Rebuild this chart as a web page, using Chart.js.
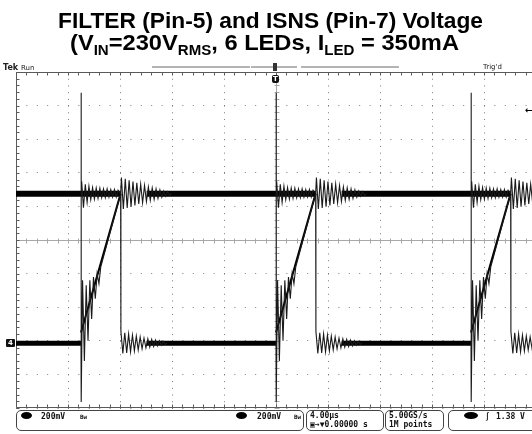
<!DOCTYPE html>
<html>
<head>
<meta charset="utf-8">
<script src="https://cdn.jsdelivr.net/npm/chart.js@4.4.1/dist/chart.umd.min.js"></script>
<style>
  body { margin: 0; width: 532px; height: 434px; overflow: hidden; position: relative; background: #fff; }
  #scope { position: absolute; left: 0; top: 0; }
  .title { position: absolute; white-space: nowrap; font: bold 22px "Liberation Sans", Arial, sans-serif; line-height: 22px; color: #000; transform-origin: 0 0; }
  .title sub { font-size: 14px; vertical-align: -5px; line-height: 0; }
  .lbl { position: absolute; white-space: nowrap; color: #222; font-family: "DejaVu Sans", sans-serif; }
  .mono { position: absolute; white-space: nowrap; color: #111; font: bold 8px "DejaVu Sans Mono", monospace; line-height: 9px; }
  .box { position: absolute; top: 410px; height: 19px; border: 1px solid #444; border-radius: 5px; }
  .oval { position: absolute; width: 11px; height: 7px; border-radius: 50%; background: #000; }
  .bar { position: absolute; top: 66px; height: 2px; background: #b4b4b4; }
</style>
</head>
<body>
<canvas id="scope" width="545" height="434"></canvas>

<div class="title" id="t1">FILTER (Pin-5) and ISNS (Pin-7) Voltage</div>
<div class="title" id="t2">(V<sub>IN</sub>=230V<sub>RMS</sub>, 6 LEDs, I<sub>LED</sub> = 350mA</div>

<div class="lbl" style="left:3px;top:63px;font-weight:bold;font-size:8px;">Tek</div>
<div class="lbl" style="left:21px;top:64px;font-size:7px;">Run</div>
<div class="lbl" style="left:483px;top:63px;font-size:7px;">Trig'd</div>

<div class="bar" style="left:152px;width:98px;"></div>
<div class="bar" style="left:251px;width:46px;"></div>
<div class="bar" style="left:301px;width:98px;"></div>
<div style="position:absolute;left:273px;top:63px;width:4px;height:8px;background:#333;"></div>
<div style="position:absolute;left:272px;top:75px;width:7px;height:8px;border-radius:2px;background:#111;color:#fff;font:bold 7px 'DejaVu Sans';line-height:8px;text-align:center;">T</div>
<div style="position:absolute;left:6px;top:339px;width:9px;height:8px;border-radius:1px;background:#111;color:#fff;font:bold 7px 'DejaVu Sans';line-height:8px;text-align:center;">4</div>
<div class="lbl" style="left:525px;top:105px;font-size:9px;font-weight:bold;color:#000;">&#8592;</div>

<div class="box" style="left:16px;width:286px;"></div>
<div class="oval" style="left:21px;top:412px;"></div>
<div class="mono" style="left:41px;top:412px;">200mV</div>
<div class="mono" style="left:80px;top:412px;font-size:6px;">Bw</div>
<div class="oval" style="left:236px;top:412px;"></div>
<div class="mono" style="left:257px;top:412px;">200mV</div>
<div class="mono" style="left:294px;top:412px;font-size:6px;">Bw</div>

<div class="box" style="left:306px;width:76px;"></div>
<div class="mono" style="left:310px;top:411px;">4.00µs</div>
<div class="mono" style="left:310px;top:420px;">▣→▼0.00000 s</div>

<div class="box" style="left:385px;width:57px;"></div>
<div class="mono" style="left:389px;top:411px;">5.00GS/s</div>
<div class="mono" style="left:389px;top:420px;">1M points</div>

<div class="box" style="left:448px;width:100px;"></div>
<div class="oval" style="left:464px;top:412px;width:14px;"></div>
<div class="mono" style="left:485px;top:412px;">∫</div>
<div class="mono" style="left:496px;top:412px;">1.38 V</div>

<script>
// time base 4 µs/div, 10 div ; vertical 200 mV/div, values in divisions from screen centre
const onTimes = [5.0, 20.0, 35.0];       // µs, switch turn-on (leading edge spike)
const offTimes = [8.05, 23.05, 38.05];   // µs, switch turn-off

const filterLevel = 1.38;
const isnsLevel = -3.07;
const spikeHigh = 4.38;
const spikeLow = -4.82;
const rampStart = -2.75;
const rampEnd = 1.38;

const ringStepOn = 0.14;    // µs between ringing extremes, on-time
const ringStepOff = 0.148;  // µs between ringing extremes, after turn-off
const settle = 2.0;         // µs until trace is flat again

const filterRingOn = [1.75, 0.96, 1.66, 1.12, 1.6, 1.2, 1.56, 1.22, 1.55, 1.24, 1.54,
  1.26, 1.52, 1.26, 1.52, 1.28, 1.5, 1.28, 1.5, 1.28, 1.48];
const filterRingOff = [1.86, 0.92, 1.82, 0.95, 1.78, 0.99, 1.74, 1.03, 1.7, 1.07, 1.66, 1.11,
  1.62, 1.15, 1.58, 1.18, 1.55, 1.21, 1.52, 1.24, 1.49, 1.27, 1.46, 1.3, 1.44, 1.32];
const isnsRingOn = [-1.2, -3.6, -1.35, -3.0, -1.2, -2.35, -1.1, -1.75, -1.0, -1.3, -0.8];
const isnsRingOff = [-2.72, -3.38, -2.76, -3.36, -2.8, -3.33, -2.83, -3.3, -2.86, -3.27, -2.89,
  -3.24, -2.92, -3.21, -2.94, -3.19, -2.96, -3.17, -2.98, -3.15, -3.0, -3.13, -3.02, -3.11];

function buildFilter() {
  const flat = [];
  const ring = [];
  let start = 0;
  onTimes.forEach((t0, k) => {
    const tOff = offTimes[k];
    flat.push({ x: start, y: filterLevel }, { x: tOff, y: filterLevel }, { x: tOff, y: null });
    ring.push({ x: t0, y: filterLevel });
    filterRingOn.forEach((v, i) => ring.push({ x: t0 + 0.05 + i * ringStepOn, y: v }));
    ring.push({ x: tOff, y: filterLevel });
    filterRingOff.forEach((v, i) => ring.push({ x: tOff + 0.06 + i * ringStepOff, y: v }));
    const tEnd = tOff + 0.06 + filterRingOff.length * ringStepOff;
    ring.push({ x: tEnd, y: filterLevel }, { x: tEnd, y: null });
    start = tOff + settle;
  });
  flat.push({ x: start, y: filterLevel }, { x: 40, y: filterLevel });
  return { flat, ring };
}

function buildIsns() {
  const flat = [];
  const ring = [];
  const ramp = [];
  let start = 0;
  onTimes.forEach((t0, k) => {
    const tOff = offTimes[k];
    flat.push({ x: start, y: isnsLevel }, { x: t0, y: isnsLevel }, { x: t0, y: null });
    ring.push({ x: t0, y: isnsLevel }, { x: t0, y: spikeHigh }, { x: t0 + 0.03, y: spikeLow });
    isnsRingOn.forEach((v, i) => ring.push({ x: t0 + 0.12 + i * ringStepOn, y: v }));
    ring.push({ x: tOff, y: rampEnd });
    isnsRingOff.forEach((v, i) => ring.push({ x: tOff + 0.02 + i * ringStepOff, y: v }));
    const tEnd = tOff + 0.02 + isnsRingOff.length * ringStepOff;
    ring.push({ x: tEnd, y: isnsLevel }, { x: tEnd, y: null });
    ramp.push({ x: t0, y: rampStart }, { x: tOff, y: rampEnd }, { x: tOff, y: null });
    start = tOff + settle;
  });
  flat.push({ x: start, y: isnsLevel }, { x: 40, y: isnsLevel });
  return { flat, ring, ramp };
}

const filter = buildFilter();
const isns = buildIsns();

function trace(data, width, color) {
  return { data, borderColor: color, borderWidth: width, pointRadius: 0, tension: 0, spanGaps: false, fill: false };
}

const graticule = {
  id: "graticule",
  beforeDatasetsDraw(chart) {
    const { ctx, chartArea: a, scales: { x, y } } = chart;
    const px = v => Math.round(x.getPixelForValue(v)) + 0.5;
    const py = v => Math.round(y.getPixelForValue(v)) + 0.5;
    const cx = px(20);
    const cy = py(0);
    const L = Math.round(a.left) + 0.5, R = Math.round(a.right) - 0.5;
    const T = Math.round(a.top) + 0.5, B = Math.round(a.bottom) - 0.5;
    ctx.save();
    ctx.lineWidth = 1;
    ctx.strokeStyle = "#a8a8a8";
    ctx.beginPath();
    ctx.moveTo(L, cy); ctx.lineTo(R, cy);
    ctx.moveTo(cx, T); ctx.lineTo(cx, B);
    for (let i = 0; i <= 50; i++) {
      const p = px(i * 0.8);
      ctx.moveTo(p, cy - 2); ctx.lineTo(p, cy + 3);
    }
    for (let i = 0; i <= 50; i++) {
      const p = py(-5 + i * 0.2);
      ctx.moveTo(cx - 2, p); ctx.lineTo(cx + 3, p);
    }
    ctx.stroke();

    ctx.strokeStyle = "#5a5a5a";
    ctx.beginPath();
    ctx.moveTo(L, T); ctx.lineTo(R, T); ctx.lineTo(R, B); ctx.lineTo(L, B); ctx.closePath();
    for (let i = 0; i <= 50; i++) {
      const p = px(i * 0.8);
      ctx.moveTo(p, T); ctx.lineTo(p, T + 3);
      ctx.moveTo(p, B); ctx.lineTo(p, B - 3);
    }
    for (let i = 0; i <= 50; i++) {
      const p = py(-5 + i * 0.2);
      ctx.moveTo(L, p); ctx.lineTo(L + 3, p);
      ctx.moveTo(R, p); ctx.lineTo(R - 3, p);
    }
    ctx.stroke();
    ctx.restore();
  }
};

new Chart(document.getElementById("scope"), {
  type: "line",
  data: {
    datasets: [
      trace(filter.ring, 1.1, "#1a1a1a"),
      trace(isns.ring, 1.1, "#1a1a1a"),
      trace(isns.ramp, 2, "#000"),
      trace(filter.flat, 6, "#000"),
      trace(isns.flat, 5, "#000")
    ]
  },
  options: {
    responsive: false,
    animation: false,
    events: [],
    layout: { padding: { left: 16, right: 9, top: 72, bottom: 26 } },
    plugins: { legend: { display: false }, tooltip: { enabled: false } },
    scales: {
      x: {
        type: "linear", min: 0, max: 40,
        ticks: { display: false, stepSize: 4 },
        grid: { color: "#7a7a7a", drawTicks: false },
        border: { display: false, dash: [1, 5.72] }
      },
      y: {
        type: "linear", min: -5, max: 5,
        ticks: { display: false, stepSize: 1 },
        grid: { color: "#7a7a7a", drawTicks: false },
        border: { display: false, dash: [1, 9.4] }
      }
    }
  },
  plugins: [graticule]
});

function fitLine(id, left, top, width) {
  const el = document.getElementById(id);
  const w = el.getBoundingClientRect().width;
  el.style.left = left + "px";
  el.style.top = top + "px";
  el.style.transform = "scaleX(" + (width / w) + ")";
}
fitLine("t1", 58, 10, 425);
fitLine("t2", 70, 32, 389);
</script>
</body>
</html>
